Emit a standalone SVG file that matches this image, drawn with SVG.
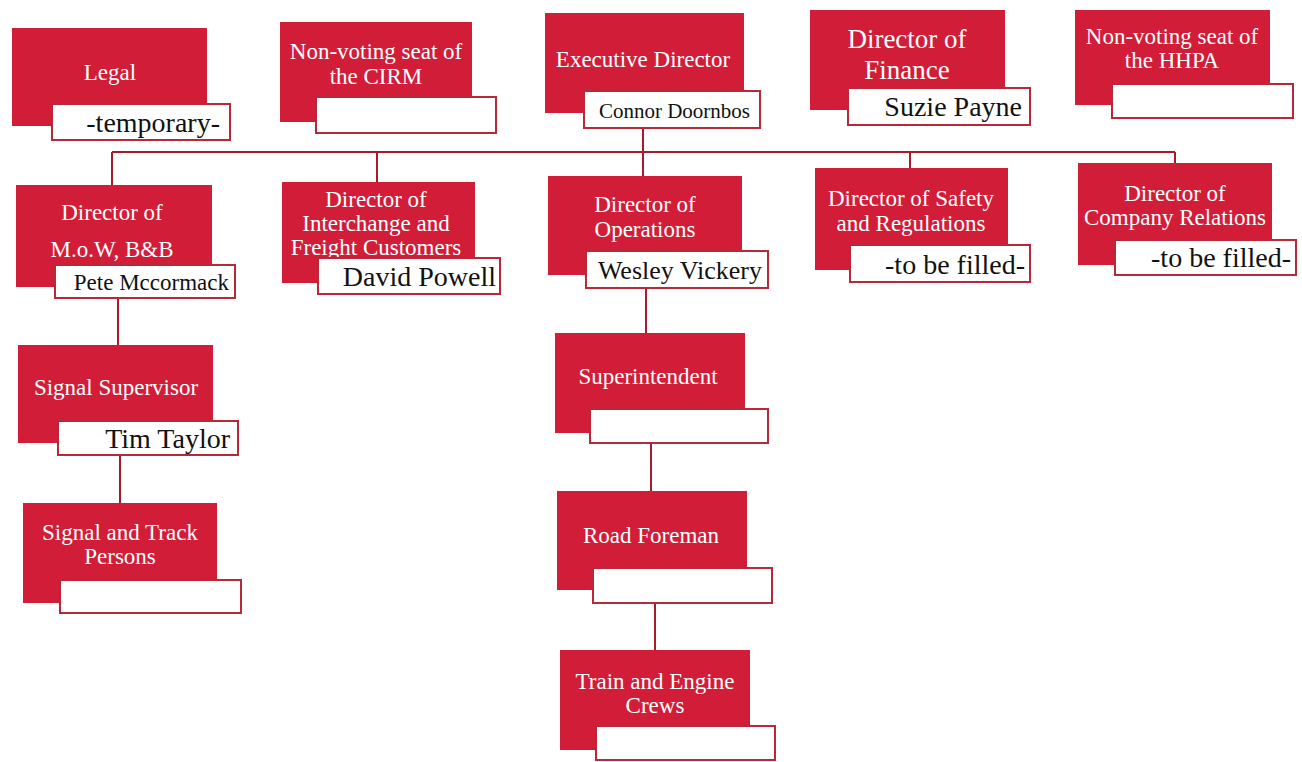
<svg xmlns="http://www.w3.org/2000/svg" width="1302" height="762" viewBox="0 0 1302 762">
<style>
.red{fill:#d21d38;}
.wb{fill:#ffffff;stroke:#b82838;stroke-width:2;}
.t{font-family:"Liberation Serif","DejaVu Serif",serif;fill:#ffffff;font-size:23px;text-anchor:middle;}
.n{font-family:"Liberation Serif","DejaVu Serif",serif;fill:#111111;font-size:28px;text-anchor:end;}
.c{fill:none;stroke:#a81a2c;stroke-width:2;}
</style>
<rect width="1302" height="762" fill="#ffffff"/>
<g id="connectors">
<path class="c" d="M643 128V152M112 152H1175M112 152V185M377 152V182M643 152V176M910 152V168M1175 152V163"/>
<path class="c" d="M118 298V345M120 455V503"/>
<path class="c" d="M646 288V333M651 443V491M655 603V650"/>
</g>
<g id="legal">
<rect class="red" x="12" y="28" width="195" height="98"/>
<text class="t" x="110" y="80">Legal</text>
<rect class="wb" x="52" y="104" width="178" height="36"/>
<text class="n" x="220" y="132">-temporary-</text>
</g>
<g id="cirm">
<rect class="red" x="280" y="22" width="192" height="100"/>
<text class="t" x="376" y="59">Non-voting seat of</text>
<text class="t" x="376" y="84">the CIRM</text>
<rect class="wb" x="316" y="97" width="180" height="36"/>
</g>
<g id="executive">
<rect class="red" x="545" y="13" width="199" height="100"/>
<text class="t" x="643" y="67">Executive Director</text>
<rect class="wb" x="584" y="91" width="176" height="37"/>
<text class="n" x="750" y="118" style="font-size:21px">Connor Doornbos</text>
</g>
<g id="finance">
<rect class="red" x="810" y="10" width="195" height="100"/>
<text class="t" x="907" y="48" style="font-size:27px">Director of</text>
<text class="t" x="907" y="79" style="font-size:27px">Finance</text>
<rect class="wb" x="848" y="88" width="182" height="37"/>
<text class="n" x="1022" y="116">Suzie Payne</text>
</g>
<g id="hhpa">
<rect class="red" x="1075" y="10" width="195" height="95"/>
<text class="t" x="1172" y="44">Non-voting seat of</text>
<text class="t" x="1172" y="68">the HHPA</text>
<rect class="wb" x="1112" y="84" width="181" height="34"/>
</g>
<g id="mow">
<rect class="red" x="16" y="185" width="196" height="102"/>
<text class="t" x="112" y="220">Director of</text>
<text class="t" x="112" y="257">M.o.W, B&amp;B</text>
<rect class="wb" x="55" y="265" width="180" height="33"/>
<text class="n" x="229" y="290" style="font-size:23px">Pete Mccormack</text>
</g>
<g id="interchange">
<rect class="red" x="282" y="182" width="193" height="101"/>
<text class="t" x="376" y="207">Director of</text>
<text class="t" x="376" y="231">Interchange and</text>
<text class="t" x="376" y="255">Freight Customers</text>
<rect class="wb" x="318" y="258" width="182" height="36"/>
<text class="n" x="496" y="286">David Powell</text>
</g>
<g id="operations">
<rect class="red" x="548" y="176" width="194" height="99"/>
<text class="t" x="645" y="212">Director of</text>
<text class="t" x="645" y="237">Operations</text>
<rect class="wb" x="586" y="251" width="182" height="37"/>
<text class="n" x="762" y="279" style="font-size:26px">Wesley Vickery</text>
</g>
<g id="safety">
<rect class="red" x="815" y="168" width="193" height="102"/>
<text class="t" x="911" y="206">Director of Safety</text>
<text class="t" x="911" y="231">and Regulations</text>
<rect class="wb" x="850" y="245" width="180" height="37"/>
<text class="n" x="1025" y="274">-to be filled-</text>
</g>
<g id="relations">
<rect class="red" x="1078" y="163" width="194" height="102"/>
<text class="t" x="1175" y="201">Director of</text>
<text class="t" x="1175" y="225">Company Relations</text>
<rect class="wb" x="1115" y="240" width="181" height="35"/>
<text class="n" x="1291" y="267">-to be filled-</text>
</g>
<g id="signal-supervisor">
<rect class="red" x="18" y="345" width="195" height="98"/>
<text class="t" x="116" y="395">Signal Supervisor</text>
<rect class="wb" x="58" y="421" width="180" height="34"/>
<text class="n" x="230" y="448">Tim Taylor</text>
</g>
<g id="signal-track">
<rect class="red" x="23" y="503" width="194" height="100"/>
<text class="t" x="120" y="540">Signal and Track</text>
<text class="t" x="120" y="564">Persons</text>
<rect class="wb" x="60" y="580" width="181" height="33"/>
</g>
<g id="superintendent">
<rect class="red" x="555" y="333" width="190" height="100"/>
<text class="t" x="648" y="384">Superintendent</text>
<rect class="wb" x="590" y="409" width="178" height="34"/>
</g>
<g id="road-foreman">
<rect class="red" x="557" y="491" width="190" height="99"/>
<text class="t" x="651" y="543">Road Foreman</text>
<rect class="wb" x="593" y="568" width="179" height="35"/>
</g>
<g id="train-crews">
<rect class="red" x="560" y="650" width="190" height="100"/>
<text class="t" x="655" y="689">Train and Engine</text>
<text class="t" x="655" y="713">Crews</text>
<rect class="wb" x="596" y="726" width="179" height="34"/>
</g>
</svg>
